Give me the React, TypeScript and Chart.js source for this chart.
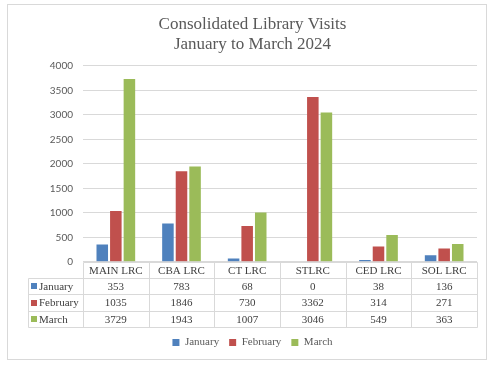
import React, { useEffect, useRef } from "react";
import { Chart, registerables } from "chart.js";

Chart.register(...registerables);

const categories = ["MAIN LRC", "CBA LRC", "CT LRC", "STLRC", "CED LRC", "SOL LRC"];
const seriesNames = ["January", "February", "March"];
const january = [353, 783, 68, 0, 38, 136];
const february = [1035, 1846, 730, 3362, 314, 271];
const march = [3729, 1943, 1007, 3046, 549, 363];
const seriesValues = [january, february, march];
const seriesColors = ["#4F81BD", "#C0504D", "#9BBB59"];
const titleLines = ["Consolidated Library Visits", "January to March 2024"];
const yMax = 4000;
const yStep = 500;

const SERIF = "'Liberation Serif', 'Times New Roman', serif";
const SANS = "Lato, 'Liberation Sans', sans-serif";
const TEXT = "#595959";
const GRID = "#d9d9d9";
const ROW_H = 16.3;

const tablePlugin = {
  id: "dataTable",
  beforeDraw(chart: any) {
    const ctx = chart.ctx;
    ctx.save();
    ctx.fillStyle = "#ffffff";
    ctx.fillRect(0, 0, chart.width, chart.height);
    ctx.strokeStyle = GRID;
    ctx.lineWidth = 1;
    ctx.strokeRect(7.5, 4.5, chart.width - 15, chart.height - 13);
    ctx.restore();
  },
  afterDraw(chart: any) {
    const ctx = chart.ctx;
    const xs = chart.scales.x;
    const ys = chart.scales.y;
    const n = categories.length;
    const colW = xs.width / n;
    const top = chart.chartArea.bottom;
    const labelLeft = ys.left;
    const right = xs.right;
    const colLeft = (i: number) => xs.getPixelForValue(i) - colW / 2;
    const px = (v: number) => Math.round(v) + 0.5;

    ctx.save();
    ctx.strokeStyle = GRID;
    ctx.lineWidth = 1;
    ctx.beginPath();
    ctx.moveTo(px(colLeft(0)), px(top));
    ctx.lineTo(px(right), px(top));
    for (let r = 1; r <= seriesNames.length + 1; r++) {
      const y = px(top + r * ROW_H);
      ctx.moveTo(px(labelLeft), y);
      ctx.lineTo(px(right), y);
    }
    const bottom = px(top + (seriesNames.length + 1) * ROW_H);
    for (let i = 0; i <= n; i++) {
      const x = px(colLeft(i));
      ctx.moveTo(x, px(top));
      ctx.lineTo(x, bottom);
    }
    ctx.moveTo(px(labelLeft), px(top + ROW_H));
    ctx.lineTo(px(labelLeft), bottom);
    ctx.stroke();

    ctx.fillStyle = "#404040";
    ctx.font = `11px ${SERIF}`;
    ctx.textBaseline = "middle";
    ctx.textAlign = "center";
    categories.forEach((c, i) => {
      ctx.fillText(c, xs.getPixelForValue(i), top + ROW_H / 2 + 1);
    });
    seriesNames.forEach((s, r) => {
      const yMid = top + (r + 1) * ROW_H + ROW_H / 2 + 1;
      ctx.fillStyle = seriesColors[r];
      ctx.fillRect(labelLeft + 3, Math.round(yMid - 4), 6, 6);
      ctx.fillStyle = "#404040";
      ctx.textAlign = "left";
      ctx.fillText(s, labelLeft + 11, yMid);
      ctx.textAlign = "center";
      seriesValues[r].forEach((v, i) => {
        ctx.fillText(String(v), xs.getPixelForValue(i), yMid);
      });
    });
    ctx.restore();
  },
};

export default function App() {
  const ref = useRef<HTMLCanvasElement | null>(null);
  useEffect(() => {
    if (!ref.current) return;
    const chart = new Chart(ref.current, {
      type: "bar",
      data: {
        labels: categories,
        datasets: seriesNames.map((name, i) => ({
          label: name,
          data: seriesValues[i],
          backgroundColor: seriesColors[i],
          borderWidth: 0,
          categoryPercentage: 0.62,
          barPercentage: 0.85,
        })),
      },
      options: {
        responsive: false,
        animation: false,
        layout: { padding: { left: 28, right: 17, top: 0, bottom: 10 } },
        plugins: {
          title: {
            display: true,
            text: titleLines,
            color: TEXT,
            font: { family: SERIF, size: 17, weight: "normal", lineHeight: 1.2 },
            padding: { top: 14, bottom: 11 },
          },
          legend: {
            position: "bottom",
            labels: {
              boxWidth: 7,
              boxHeight: 7,
              padding: 10,
              color: TEXT,
              font: { family: SERIF, size: 11 },
            },
          },
          tooltip: { enabled: false },
        },
        scales: {
          x: {
            type: "category",
            offset: true,
            grid: { display: false },
            border: { display: false },
            ticks: { display: false },
            afterFit: (s: any) => {
              s.height = ROW_H * 4;
            },
          },
          y: {
            min: 0,
            max: yMax,
            ticks: {
              stepSize: yStep,
              color: TEXT,
              font: { family: SANS, size: 10 },
              padding: 10,
              callback: (v: any) => String(v),
            },
            grid: { color: GRID, drawTicks: false },
            border: { display: false },
            afterFit: (s: any) => {
              s.width = 55;
            },
          },
        },
      },
      plugins: [tablePlugin],
    } as any);
    return () => chart.destroy();
  }, []);
  return (
    <div style={{ position: "fixed", left: 0, top: 0, width: 494, height: 368, background: "#fff" }}>
      <canvas ref={ref} width={494} height={368} style={{ display: "block" }} />
    </div>
  );
}
